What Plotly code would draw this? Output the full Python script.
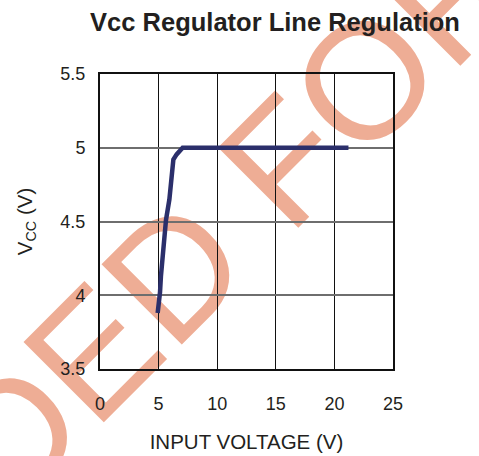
import plotly.graph_objects as go

# Data
input_voltage = [4.92, 5.05, 5.12, 5.2, 5.4, 5.63, 5.92, 6.1, 6.26, 6.54, 6.83, 7.05, 10.0, 15.0, 21.2]
vcc = [3.88, 3.96, 4.02, 4.13, 4.33, 4.51, 4.65, 4.80, 4.92, 4.955, 4.985, 5.0, 5.0, 5.0, 5.0]

x_ticks = [0, 5, 10, 15, 20, 25]
y_ticks = [3.5, 4, 4.5, 5, 5.5]
y_tick_text = ["3.5", "4", "4.5", "5", "5.5"]

title_text = "<b>Vcc Regulator Line Regulation</b>"
x_title = "INPUT VOLTAGE (V)"
y_title = "V<sub>CC</sub> (V)"
watermark = "DED FOR"

W, H = 479, 456
L, R, T, B = 100, 86, 74, 87

fig = go.Figure()
fig.add_trace(go.Scatter(
    x=input_voltage, y=vcc, mode="lines",
    line=dict(color="#2B2F6B", width=4.5),
    showlegend=False, hoverinfo="skip",
))

font_main = "Liberation Sans, Arial, sans-serif"
txt_col = "#231F20"

# watermark drawn below grid and data
cx, cy = 221, 202
px = (cx - L) / (W - L - R)
py = (H - B - cy) / (H - T - B)
fig.add_shape(
    type="rect", xref="paper", yref="paper",
    x0=px - 0.01, x1=px + 0.01, y0=py - 0.01, y1=py + 0.01,
    line=dict(width=0), fillcolor="rgba(0,0,0,0)", layer="below",
    label=dict(text=watermark, textangle=-45, textposition="middle center",
               font=dict(family=font_main, size=165, color="#EEAD95")),
)

fig.update_layout(
    width=W, height=H,
    margin=dict(l=L, r=R, t=T, b=B),
    paper_bgcolor="white", plot_bgcolor="rgba(0,0,0,0)",
    font=dict(family=font_main, color=txt_col, size=18),
    title=dict(text=title_text, x=275 / W, xanchor="center", xref="container",
               y=1 - 22 / H, yanchor="middle", yref="container",
               font=dict(size=25.5, color=txt_col)),
    xaxis=dict(range=[0, 25], tickvals=x_ticks, showgrid=True, gridcolor="#111111", gridwidth=1,
               showline=True, linecolor="#111111", linewidth=2, mirror=True, zeroline=False,
               automargin=False,
               ticks="", ticklabelstandoff=17, tickfont=dict(size=18, color=txt_col),
               title=dict(text=x_title, standoff=22, font=dict(size=20.5, color=txt_col))),
    yaxis=dict(range=[3.5, 5.5], tickvals=y_ticks, ticktext=y_tick_text, showgrid=True,
               gridcolor="#6E6E6E", gridwidth=1.5, automargin=False,
               showline=True, linecolor="#111111", linewidth=2, mirror=True, zeroline=False,
               ticks="", ticklabelstandoff=9, tickfont=dict(size=18, color=txt_col),
               title=dict(text=y_title, standoff=22, font=dict(size=20.5, color=txt_col))),
)

fig.write_html("out.html", config={"displayModeBar": False},
               post_script="document.body.style.margin='0';")
